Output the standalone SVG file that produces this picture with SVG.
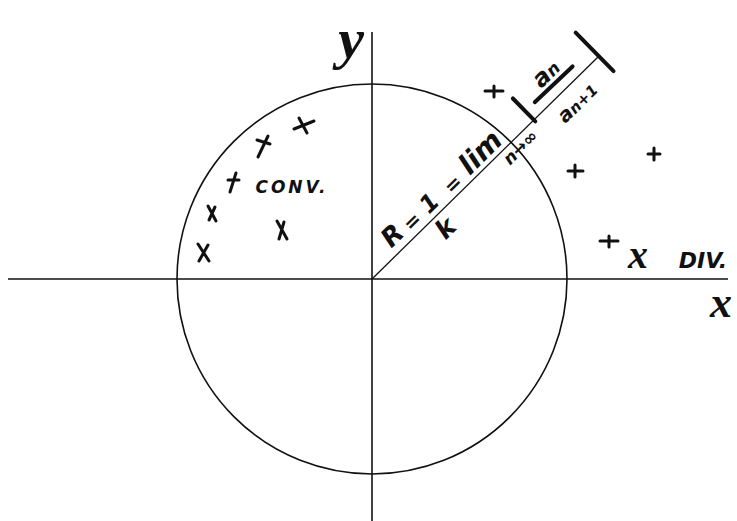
<svg xmlns="http://www.w3.org/2000/svg" width="737" height="521" viewBox="0 0 737 521">
<style>
.ax{stroke:#111;stroke-width:1.6;fill:none}
.thin{stroke:#111;stroke-width:1.3;fill:none}
.bar{stroke:#111;stroke-width:4;stroke-linecap:round;fill:none}
.mk{stroke:#111;stroke-width:3;stroke-linecap:round;fill:none}
.hw{font-family:"DejaVu Sans","Liberation Sans",sans-serif;font-style:oblique;font-weight:bold;fill:#111}
.lbl{font-family:"Liberation Serif","DejaVu Serif",serif;font-style:italic;fill:#111}
</style>
<rect width="737" height="521" fill="#fff"/>
<g id="axes">
<line class="ax" x1="372" y1="32" x2="372" y2="521"/>
<line class="ax" x1="8" y1="279" x2="728" y2="279"/>
<text class="lbl" x="351" y="58" font-size="58" text-anchor="middle" font-weight="bold">y</text>
<text class="lbl" x="721" y="317" font-size="44" text-anchor="middle" font-weight="bold">x</text>
</g>
<g id="circle">
<circle class="ax" cx="372" cy="279" r="195"/>
</g>
<g id="connectors">
<line class="thin" x1="372" y1="279" x2="599" y2="56"/>
</g>
<g id="formula" transform="translate(372,279) rotate(-44.5)">
<text class="hw" x="45" y="-8" font-size="26" text-anchor="middle">R</text>
<text class="hw" x="69" y="-6" font-size="20" text-anchor="middle">=</text>
<text class="hw" x="94" y="-6" font-size="24" text-anchor="middle">1</text>
<text class="hw" x="88" y="24" font-size="26" text-anchor="middle">k</text>
<text class="hw" x="124" y="-4" font-size="20" text-anchor="middle">=</text>
<text class="hw" x="166" y="-5" font-size="28" text-anchor="middle">lim</text>
<text class="hw" x="198" y="16" font-size="17" text-anchor="middle">n→∞</text>
<line class="bar" x1="227" y1="2" x2="227" y2="-30"/>
<text class="hw" x="268" y="-17" font-size="24" text-anchor="middle">a<tspan font-size="17">n</tspan></text>
<line class="bar" x1="240" y1="-12" x2="292" y2="-11"/>
<text class="hw" x="270" y="25" font-size="20" text-anchor="middle">a<tspan font-size="15">n+1</tspan></text>
<line class="bar" x1="318" y1="21" x2="318" y2="-33"/>
</g>
<g id="conv">
<path class="mk" d="M294,129 L314,121 M299,118 L307,133"/>
<path class="mk" d="M257,140 L270,144 M268,136 L258,157"/>
<path class="mk" d="M228,180 L239,180 M236,173 L230,192"/>
<path class="mk" d="M208,206 L216,221 M215,207 L209,220"/>
<path class="mk" d="M198,244 L209,261 M208,245 L199,261"/>
<path class="mk" d="M277,221 L287,239 M284,222 L279,239"/>
<text class="hw" x="292" y="193" font-size="17" text-anchor="middle" letter-spacing="3">CONV.</text>
</g>
<g id="div">
<path class="mk" d="M485,91 L503,91 M494,86 L494,97"/>
<path class="mk" d="M568,171 L583,171 M575,165 L575,177"/>
<path class="mk" d="M648,154 L660,154 M654,148 L654,160"/>
<path class="mk" d="M600,241 L618,241 M609,236 L609,247"/>
<text class="lbl" x="638" y="268" font-size="40" font-weight="bold" text-anchor="middle">x</text>
<text class="hw" x="703" y="268" font-size="22" text-anchor="middle">DIV.</text>
</g>
</svg>
